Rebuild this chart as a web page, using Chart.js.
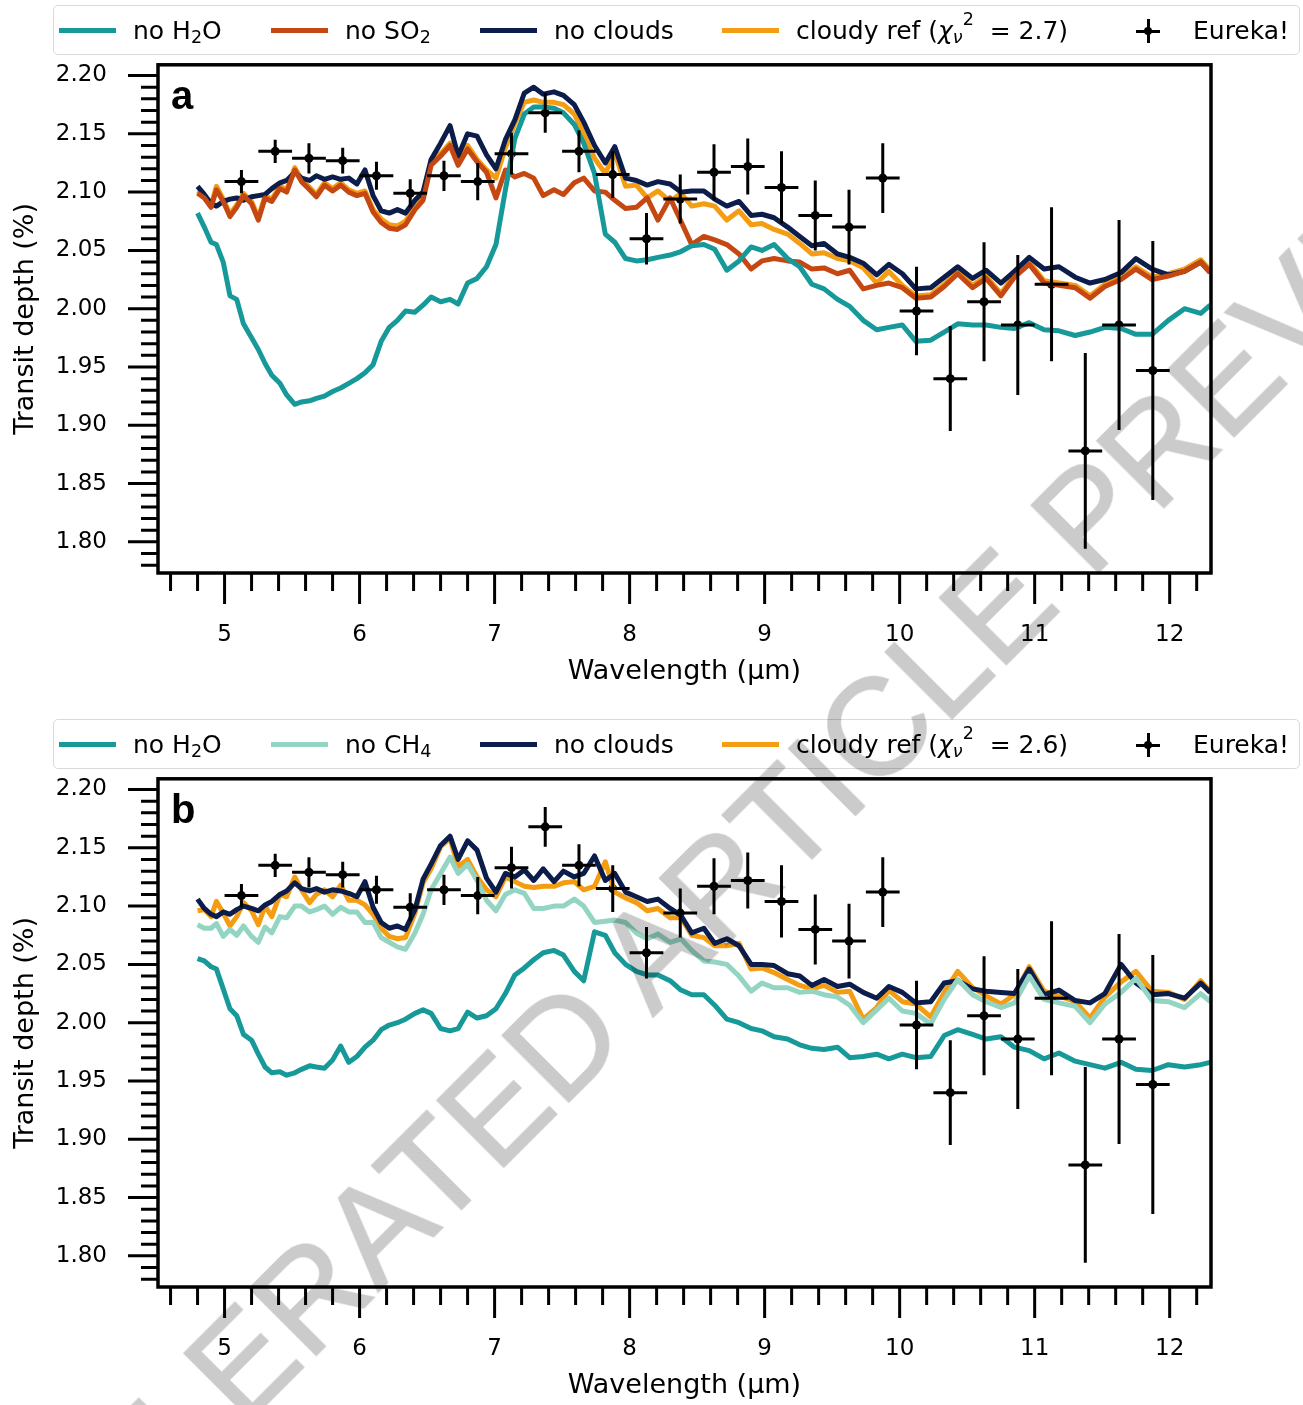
<!DOCTYPE html>
<html>
<head>
<meta charset="utf-8">
<title>Transit spectrum models</title>
<script src="https://cdn.jsdelivr.net/npm/chart.js@4.4.1/dist/chart.umd.min.js"></script>
<style>
  html, body { margin: 0; padding: 0; width: 1303px; height: 1405px; overflow: hidden; background: #fff; }
  .panel { position: absolute; left: 0; width: 1303px; height: 714px; }
  .panel canvas { position: absolute; left: 0; top: 0; }
  .legend { position: absolute; left: 53px; top: 5px; width: 1245px; height: 48px;
            border: 1px solid #dadada; border-radius: 5px; background: rgba(255,255,255,0.85);
            font: 25px "DejaVu Sans", sans-serif; color: #000; }
  .legend .swatch { position: absolute; top: 22px; width: 57px; height: 5px; }
  .legend .txt { position: absolute; top: 24px; transform: translateY(-50%); line-height: 1; white-space: nowrap; }
  .legend .sb { font-size: 0.7em; position: relative; top: 0.2em; }
  .legend .sp { font-size: 0.7em; position: relative; top: -0.8em; }
  .legend .mark { position: absolute; top: 13px; width: 24px; height: 24px; }
  .legend .mark .h { position: absolute; left: 0; top: 10.5px; width: 24px; height: 3px; background: #000; }
  .legend .mark .v { position: absolute; left: 10.5px; top: 0; width: 3px; height: 24px; background: #000; }
  .legend .mark .d { position: absolute; left: 8px; top: 8px; width: 8px; height: 8px; border-radius: 50%; background: #000; }
  #stamp { position: absolute; left: 695px; top: 908px; transform: translate(-50%, -50%) rotate(-45deg);
           font: 138px "Liberation Sans", Arial, sans-serif; line-height: 1; white-space: nowrap;
           color: #cbcbcb; -webkit-text-stroke: 1.5px #cbcbcb; mix-blend-mode: multiply; pointer-events: none; }
</style>
</head>
<body>
<div class="panel" style="top:0px"><canvas id="chartA" width="1303" height="714"></canvas><div class="legend" id="legendA"></div></div>
<div class="panel" style="top:714px"><canvas id="chartB" width="1303" height="714"></canvas><div class="legend" id="legendB"></div></div>
<div id="stamp">ACCELERATED ARTICLE PREVIEW</div>
<script>
// model wavelength grid (µm)
const waveGrid = [
  4.80, 4.85, 4.90, 4.94, 4.99, 5.04, 5.09, 5.14, 5.20, 5.25,
  5.30, 5.35, 5.41, 5.46, 5.52, 5.57, 5.63, 5.68, 5.74, 5.80,
  5.86, 5.92, 5.98, 6.04, 6.10, 6.16, 6.22, 6.28, 6.34, 6.41,
  6.47, 6.53, 6.60, 6.67, 6.73, 6.80, 6.87, 6.94, 7.01, 7.08,
  7.15, 7.22, 7.29, 7.36, 7.44, 7.51, 7.59, 7.66, 7.74, 7.82,
  7.89, 7.97, 8.05, 8.13, 8.21, 8.30, 8.38, 8.46, 8.55, 8.63,
  8.72, 8.81, 8.90, 8.98, 9.07, 9.17, 9.26, 9.35, 9.44, 9.54,
  9.63, 9.73, 9.83, 9.92, 10.02, 10.12, 10.23, 10.33, 10.43, 10.54,
  10.64, 10.75, 10.85, 10.96, 11.07, 11.18, 11.30, 11.41, 11.52, 11.64,
  11.75, 11.87, 11.99, 12.11, 12.23, 12.30
];

// panel a models, transit depth (%)
const noH2O_a = [
  2.082, 2.070, 2.057, 2.055, 2.040, 2.011, 2.008, 1.987, 1.975, 1.965,
  1.953, 1.943, 1.936, 1.926, 1.918, 1.920, 1.921, 1.923, 1.925, 1.929,
  1.932, 1.936, 1.940, 1.945, 1.952, 1.972, 1.984, 1.990, 1.998, 1.997,
  2.003, 2.010, 2.006, 2.008, 2.004, 2.022, 2.026, 2.036, 2.055, 2.102,
  2.146, 2.167, 2.173, 2.173, 2.172, 2.168, 2.158, 2.142, 2.116, 2.064,
  2.057, 2.043, 2.041, 2.042, 2.044, 2.046, 2.049, 2.054, 2.055, 2.051,
  2.033, 2.041, 2.053, 2.050, 2.055, 2.043, 2.036, 2.021, 2.017, 2.008,
  2.002, 1.990, 1.982, 1.984, 1.986, 1.972, 1.973, 1.980, 1.987, 1.986,
  1.986, 1.984, 1.983, 1.988, 1.982, 1.981, 1.977, 1.980, 1.984, 1.983,
  1.978, 1.978, 1.990, 2.000, 1.996, 2.003
];
const noSO2_a = [
  2.099, 2.095, 2.087, 2.102, 2.092, 2.079, 2.087, 2.097, 2.090, 2.076,
  2.095, 2.092, 2.103, 2.100, 2.119, 2.109, 2.102, 2.096, 2.106, 2.101,
  2.106, 2.100, 2.097, 2.099, 2.083, 2.074, 2.069, 2.068, 2.072, 2.085,
  2.093, 2.123, 2.131, 2.140, 2.123, 2.137, 2.126, 2.117, 2.095, 2.119,
  2.113, 2.116, 2.112, 2.097, 2.102, 2.098, 2.108, 2.112, 2.101, 2.100,
  2.093, 2.086, 2.087, 2.095, 2.076, 2.095, 2.075, 2.055, 2.062, 2.059,
  2.055, 2.047, 2.034, 2.041, 2.043, 2.041, 2.040, 2.034, 2.035, 2.030,
  2.033, 2.017, 2.020, 2.022, 2.018, 2.009, 2.010, 2.019, 2.030, 2.018,
  2.026, 2.011, 2.027, 2.038, 2.022, 2.020, 2.018, 2.009, 2.019, 2.025,
  2.034, 2.025, 2.028, 2.032, 2.040, 2.031
];
const noClouds_a = [
  2.105, 2.098, 2.090, 2.088, 2.092, 2.094, 2.095, 2.093, 2.096, 2.097,
  2.098, 2.103, 2.108, 2.110, 2.117, 2.112, 2.110, 2.114, 2.111, 2.113,
  2.111, 2.112, 2.107, 2.119, 2.097, 2.084, 2.082, 2.085, 2.082, 2.093,
  2.100, 2.128, 2.142, 2.157, 2.131, 2.150, 2.148, 2.132, 2.120, 2.145,
  2.162, 2.185, 2.190, 2.184, 2.186, 2.183, 2.175, 2.160, 2.140, 2.125,
  2.139, 2.112, 2.110, 2.106, 2.109, 2.107, 2.100, 2.101, 2.101, 2.094,
  2.088, 2.092, 2.080, 2.081, 2.078, 2.070, 2.062, 2.054, 2.056, 2.047,
  2.044, 2.039, 2.029, 2.038, 2.030, 2.017, 2.018, 2.027, 2.036, 2.026,
  2.033, 2.022, 2.032, 2.044, 2.034, 2.036, 2.027, 2.022, 2.025, 2.031,
  2.043, 2.034, 2.029, 2.032, 2.040, 2.031
];
const cloudyRef_a = [
  2.101, 2.097, 2.089, 2.105, 2.094, 2.081, 2.089, 2.099, 2.092, 2.078,
  2.097, 2.094, 2.105, 2.102, 2.121, 2.111, 2.104, 2.098, 2.108, 2.103,
  2.108, 2.102, 2.099, 2.101, 2.085, 2.077, 2.072, 2.071, 2.075, 2.088,
  2.095, 2.125, 2.133, 2.142, 2.125, 2.140, 2.128, 2.119, 2.112, 2.138,
  2.159, 2.177, 2.179, 2.177, 2.177, 2.175, 2.167, 2.150, 2.129, 2.116,
  2.134, 2.105, 2.106, 2.095, 2.101, 2.092, 2.099, 2.088, 2.090, 2.088,
  2.076, 2.084, 2.072, 2.073, 2.068, 2.064, 2.056, 2.047, 2.048, 2.043,
  2.041, 2.035, 2.022, 2.032, 2.020, 2.011, 2.012, 2.021, 2.032, 2.020,
  2.028, 2.013, 2.029, 2.040, 2.024, 2.022, 2.020, 2.011, 2.021, 2.027,
  2.036, 2.027, 2.030, 2.034, 2.042, 2.033
];

// panel b models
const noH2O_b = [
  2.055, 2.053, 2.048, 2.046, 2.029, 2.012, 2.006, 1.990, 1.985, 1.973,
  1.962, 1.957, 1.958, 1.955, 1.957, 1.960, 1.963, 1.962, 1.961, 1.968,
  1.980, 1.966, 1.971, 1.979, 1.985, 1.994, 1.998, 2.000, 2.003, 2.008,
  2.011, 2.008, 1.995, 1.993, 1.995, 2.009, 2.004, 2.006, 2.012, 2.025,
  2.041, 2.047, 2.054, 2.060, 2.062, 2.058, 2.044, 2.036, 2.078, 2.075,
  2.060, 2.050, 2.044, 2.041, 2.041, 2.036, 2.028, 2.024, 2.024, 2.015,
  2.003, 2.000, 1.995, 1.993, 1.988, 1.986, 1.981, 1.978, 1.977, 1.979,
  1.970, 1.971, 1.973, 1.969, 1.973, 1.970, 1.971, 1.989, 1.994, 1.990,
  1.986, 1.988, 1.979, 1.976, 1.969, 1.974, 1.967, 1.964, 1.961, 1.966,
  1.960, 1.959, 1.964, 1.962, 1.964, 1.966
];
const noCH4_b = [
  2.084, 2.081, 2.081, 2.085, 2.074, 2.080, 2.075, 2.083, 2.074, 2.069,
  2.082, 2.077, 2.091, 2.090, 2.100, 2.100, 2.095, 2.097, 2.100, 2.093,
  2.099, 2.095, 2.095, 2.086, 2.086, 2.073, 2.069, 2.065, 2.063, 2.077,
  2.093, 2.114, 2.128, 2.142, 2.128, 2.136, 2.122, 2.105, 2.096, 2.110,
  2.114, 2.111, 2.098, 2.098, 2.100, 2.100, 2.106, 2.100, 2.086, 2.087,
  2.088, 2.086, 2.077, 2.072, 2.076, 2.069, 2.072, 2.062, 2.053, 2.052,
  2.050, 2.040, 2.027, 2.034, 2.030, 2.030, 2.026, 2.027, 2.024, 2.022,
  2.015, 2.000, 2.011, 2.021, 2.010, 2.008, 1.999, 2.020, 2.037, 2.024,
  2.018, 2.013, 2.017, 2.040, 2.020, 2.017, 2.014, 2.000, 2.016, 2.026,
  2.038, 2.019, 2.018, 2.013, 2.025, 2.018
];
const noClouds_b = [
  2.106, 2.098, 2.093, 2.091, 2.095, 2.093, 2.097, 2.100, 2.098, 2.096,
  2.101, 2.104, 2.110, 2.113, 2.120, 2.115, 2.113, 2.115, 2.112, 2.114,
  2.113, 2.111, 2.108, 2.121, 2.099, 2.086, 2.081, 2.083, 2.080, 2.097,
  2.123, 2.136, 2.152, 2.160, 2.140, 2.156, 2.148, 2.124, 2.112, 2.128,
  2.125, 2.131, 2.122, 2.132, 2.121, 2.130, 2.125, 2.128, 2.143, 2.122,
  2.128, 2.112, 2.108, 2.104, 2.106, 2.098, 2.092, 2.077, 2.081, 2.068,
  2.072, 2.066, 2.050, 2.050, 2.049, 2.042, 2.040, 2.032, 2.037, 2.031,
  2.033, 2.026, 2.021, 2.031, 2.026, 2.017, 2.018, 2.034, 2.036, 2.029,
  2.027, 2.026, 2.025, 2.046, 2.024, 2.028, 2.019, 2.017, 2.025, 2.050,
  2.034, 2.024, 2.025, 2.021, 2.034, 2.026
];
const cloudyRef_b = [
  2.096, 2.097, 2.091, 2.104, 2.094, 2.083, 2.091, 2.103, 2.096, 2.084,
  2.100, 2.091, 2.110, 2.108, 2.125, 2.114, 2.103, 2.110, 2.114, 2.108,
  2.118, 2.105, 2.105, 2.101, 2.093, 2.081, 2.074, 2.072, 2.073, 2.094,
  2.120, 2.132, 2.151, 2.158, 2.134, 2.140, 2.125, 2.114, 2.108, 2.125,
  2.121, 2.117, 2.116, 2.117, 2.117, 2.120, 2.121, 2.114, 2.117, 2.138,
  2.112, 2.107, 2.103, 2.096, 2.098, 2.090, 2.090, 2.075, 2.073, 2.066,
  2.066, 2.068, 2.046, 2.047, 2.043, 2.037, 2.032, 2.029, 2.032, 2.026,
  2.027, 2.003, 2.013, 2.028, 2.018, 2.016, 2.005, 2.026, 2.044, 2.030,
  2.023, 2.016, 2.024, 2.048, 2.027, 2.023, 2.018, 2.004, 2.022, 2.035,
  2.044, 2.027, 2.026, 2.020, 2.036, 2.027
];

// Eureka! reduction: bin centres, depths and 1-sigma errors
const eurekaWave = [
  5.125, 5.375, 5.625, 5.875, 6.125, 6.375, 6.625, 6.875, 7.125, 7.375,
  7.625, 7.875, 8.125, 8.375, 8.625, 8.875, 9.125, 9.375, 9.625, 9.875,
  10.125, 10.375, 10.625, 10.875, 11.125, 11.375, 11.625, 11.875
];
const eurekaDepth = [
  2.109, 2.135, 2.129, 2.127, 2.114, 2.099, 2.114, 2.109, 2.133, 2.168,
  2.135, 2.115, 2.060, 2.094, 2.117, 2.122, 2.104, 2.080, 2.070, 2.112,
  1.998, 1.940, 2.006, 1.986, 2.021, 1.878, 1.986, 1.947
];
const eurekaErr = [
  0.010, 0.010, 0.013, 0.011, 0.012, 0.012, 0.013, 0.016, 0.018, 0.017,
  0.018, 0.020, 0.022, 0.021, 0.024, 0.024, 0.031, 0.030, 0.032, 0.030,
  0.038, 0.045, 0.051, 0.060, 0.066, 0.084, 0.090, 0.111
];
const eurekaBinHalf = 0.125;

// axes
const xMajorTicks = [5, 6, 7, 8, 9, 10, 11, 12];
const yMajorTicks = [1.80, 1.85, 1.90, 1.95, 2.00, 2.05, 2.10, 2.15, 2.20];
const xMinorTicks = [];
for (let t = 46; t <= 122; t += 2) if (t % 10) xMinorTicks.push(t / 10);
const yMinorTicks = [];
for (let t = 178; t <= 220; t++) if (t % 5) yMinorTicks.push(t / 100);
const X_MIN = 4.507, X_MAX = 12.306;
const Y_MIN = 1.7733, Y_MAX = 2.2092;

const TEAL = '#17999a', RUST = '#c54812', NAVY = '#0c1d4b', ORANGE = '#f49d12', MINT = '#93d4c3';

Chart.defaults.font.family = '"DejaVu Sans", sans-serif';
Chart.defaults.color = '#000';

// outward matplotlib-style ticks plus the black frame
const frameTicks = {
  id: 'frameTicks',
  afterDraw(chart) {
    const { ctx, chartArea: a, scales: { x, y } } = chart;
    ctx.save();
    ctx.strokeStyle = '#000';
    ctx.lineWidth = 3;
    ctx.beginPath();
    xMinorTicks.forEach(v => { const p = x.getPixelForValue(v); ctx.moveTo(p, a.bottom); ctx.lineTo(p, a.bottom + 18); });
    xMajorTicks.forEach(v => { const p = x.getPixelForValue(v); ctx.moveTo(p, a.bottom); ctx.lineTo(p, a.bottom + 31); });
    yMinorTicks.forEach(v => { const p = y.getPixelForValue(v); ctx.moveTo(a.left, p); ctx.lineTo(a.left - 17, p); });
    yMajorTicks.forEach(v => { const p = y.getPixelForValue(v); ctx.moveTo(a.left, p); ctx.lineTo(a.left - 30, p); });
    ctx.stroke();
    ctx.lineWidth = 3.5;
    ctx.strokeRect(a.left, a.top, a.right - a.left, a.bottom - a.top);
    ctx.restore();
  }
};

// horizontal bin widths and vertical error bars of the Eureka! points
const errorBars = {
  id: 'errorBars',
  afterDatasetsDraw(chart) {
    const { ctx, scales: { x, y } } = chart;
    ctx.save();
    ctx.strokeStyle = '#000';
    ctx.lineWidth = 3;
    ctx.beginPath();
    eurekaWave.forEach((w, i) => {
      const d = eurekaDepth[i], e = eurekaErr[i];
      const px = x.getPixelForValue(w), py = y.getPixelForValue(d);
      ctx.moveTo(x.getPixelForValue(w - eurekaBinHalf), py);
      ctx.lineTo(x.getPixelForValue(w + eurekaBinHalf), py);
      ctx.moveTo(px, y.getPixelForValue(d + e));
      ctx.lineTo(px, y.getPixelForValue(d - e));
    });
    ctx.stroke();
    ctx.restore();
  }
};

const panelTag = {
  id: 'panelTag',
  afterDraw(chart, args, opts) {
    const { ctx, chartArea } = chart;
    ctx.save();
    ctx.font = 'bold 40px "Liberation Sans", Arial, sans-serif';
    ctx.fillStyle = '#000';
    ctx.fillText(opts.text, chartArea.left + 13, chartArea.top + 44);
    ctx.restore();
  }
};

function buildLegend(el, series) {
  const slots = [5, 217, 426, 668];
  let html = '';
  series.forEach((s, i) => {
    html += `<div class="swatch" style="left:${slots[i]}px;background:${s.color}"></div>`;
    html += `<div class="txt" style="left:${slots[i] + 74}px">${s.html}</div>`;
  });
  html += '<div class="mark" style="left:1082px"><div class="h"></div><div class="v"></div><div class="d"></div></div>';
  html += '<div class="txt" style="left:1139px">Eureka!</div>';
  el.innerHTML = html;
}

function makePanel(canvasId, legendId, series, tag) {
  const datasets = series.map(s => ({
    label: s.name,
    data: waveGrid.map((w, i) => ({ x: w, y: s.values[i] })),
    borderColor: s.color,
    borderWidth: 5,
    borderJoinStyle: 'round',
    pointRadius: 0,
    fill: false,
    tension: 0
  }));
  datasets.push({
    label: 'Eureka!',
    data: eurekaWave.map((w, i) => ({ x: w, y: eurekaDepth[i] })),
    showLine: false,
    pointRadius: 4.5,
    pointBorderWidth: 0,
    pointBackgroundColor: '#000',
    borderColor: '#000'
  });

  new Chart(document.getElementById(canvasId), {
    type: 'line',
    data: { datasets },
    options: {
      responsive: false,
      animation: false,
      devicePixelRatio: 1,
      events: [],
      layout: { padding: { left: 0, right: 92, top: 60, bottom: 0 } },
      plugins: { legend: { display: false }, tooltip: { enabled: false }, panelTag: { text: tag } },
      scales: {
        x: {
          type: 'linear', min: X_MIN, max: X_MAX,
          grid: { display: false, drawTicks: false },
          border: { display: false },
          afterBuildTicks: ax => { ax.ticks = xMajorTicks.map(v => ({ value: v })); },
          afterFit: ax => { ax.height = 141; },
          ticks: { font: { size: 23 }, padding: 48, autoSkip: false, maxRotation: 0, callback: v => String(v) },
          title: { display: true, text: 'Wavelength (μm)', font: { size: 27 }, padding: { top: 0, bottom: 26 } }
        },
        y: {
          type: 'linear', min: Y_MIN, max: Y_MAX,
          grid: { display: false, drawTicks: false },
          border: { display: false },
          afterBuildTicks: ax => { ax.ticks = yMajorTicks.map(v => ({ value: v })); },
          afterFit: ax => { ax.width = 158; },
          ticks: { font: { size: 23 }, padding: 51, autoSkip: false, callback: v => v.toFixed(2) },
          title: { display: true, text: 'Transit depth (%)', font: { size: 27 }, padding: { top: 10, bottom: 0 } }
        }
      }
    },
    plugins: [errorBars, frameTicks, panelTag]
  });

  buildLegend(document.getElementById(legendId), series);
}

const h2o = 'no H<span class="sb">2</span>O';
const chi = (v) => `cloudy ref (<i>χ</i><span class="sb"><i>ν</i></span><span class="sp">2</span>&nbsp;&nbsp;= ${v})`;

makePanel('chartA', 'legendA', [
  { name: 'no H2O', html: h2o, color: TEAL, values: noH2O_a },
  { name: 'no SO2', html: 'no SO<span class="sb">2</span>', color: RUST, values: noSO2_a },
  { name: 'no clouds', html: 'no clouds', color: NAVY, values: noClouds_a },
  { name: 'cloudy ref', html: chi('2.7'), color: ORANGE, values: cloudyRef_a }
], 'a');

makePanel('chartB', 'legendB', [
  { name: 'no H2O', html: h2o, color: TEAL, values: noH2O_b },
  { name: 'no CH4', html: 'no CH<span class="sb">4</span>', color: MINT, values: noCH4_b },
  { name: 'no clouds', html: 'no clouds', color: NAVY, values: noClouds_b },
  { name: 'cloudy ref', html: chi('2.6'), color: ORANGE, values: cloudyRef_b }
], 'b');
</script>
</body>
</html>
